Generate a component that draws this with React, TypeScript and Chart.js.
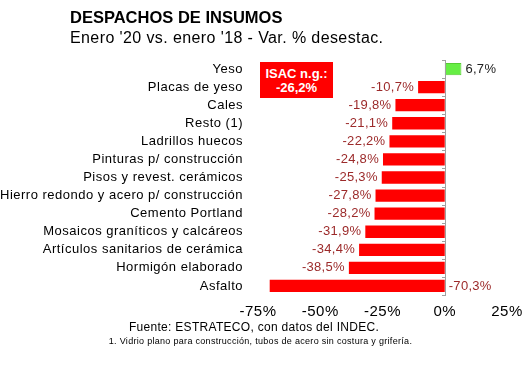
import React, { useEffect, useRef } from "react";
import { Chart, registerables } from "chart.js";

Chart.register(...registerables);

const categories = [
  "Yeso",
  "Placas de yeso",
  "Cales",
  "Resto (1)",
  "Ladrillos huecos",
  "Pinturas p/ construcción",
  "Pisos y revest. cerámicos",
  "Hierro redondo y acero p/ construcción",
  "Cemento Portland",
  "Mosaicos graníticos y calcáreos",
  "Artículos sanitarios de cerámica",
  "Hormigón elaborado",
  "Asfalto",
];
const values = [6.7, -10.7, -19.8, -21.1, -22.2, -24.8, -25.3, -27.8, -28.2, -31.9, -34.4, -38.5, -70.3];
const valueLabels = ["6,7%", "-10,7%", "-19,8%", "-21,1%", "-22,2%", "-24,8%", "-25,3%", "-27,8%", "-28,2%", "-31,9%", "-34,4%", "-38,5%", "-70,3%"];
const xMin = -75;
const xMax = 25;
const xStep = 25;

const title = "DESPACHOS DE INSUMOS";
const subtitle = "Enero '20 vs. enero '18 - Var. % desestac.";
const boxLine1 = "ISAC n.g.:";
const boxLine2 = "-26,2%";
const source = "Fuente: ESTRATECO, con datos del INDEC.";
const footnote = "1. Vidrio plano para construcción, tubos de acero sin costura y grifería.";

const FONT = "'Liberation Sans', Arial, sans-serif";

const spacingPlugin = {
  id: "spacing",
  beforeDraw(chart: any) {
    chart.ctx.letterSpacing = "0.5px";
  },
};

const zeroAxisPlugin = {
  id: "zeroAxis",
  afterDatasetsDraw(chart: any) {
    const { ctx, chartArea, scales } = chart;
    const x0 = scales.x.getPixelForValue(0);
    ctx.save();
    ctx.strokeStyle = "#a0a0a0";
    ctx.lineWidth = 1;
    ctx.beginPath();
    ctx.moveTo(Math.round(x0) + 0.5, chartArea.top);
    ctx.lineTo(Math.round(x0) + 0.5, chartArea.bottom);
    const n = categories.length;
    for (let i = 0; i <= n; i++) {
      const y = chartArea.top + ((chartArea.bottom - chartArea.top) * i) / n;
      ctx.moveTo(Math.round(x0) - 3, Math.round(y) + 0.5);
      ctx.lineTo(Math.round(x0) + 1, Math.round(y) + 0.5);
    }
    ctx.stroke();
    ctx.restore();
  },
};

const valueLabelPlugin = {
  id: "valueLabels",
  afterDatasetsDraw(chart: any) {
    const { ctx, scales } = chart;
    const meta = chart.getDatasetMeta(0);
    const x0 = scales.x.getPixelForValue(0);
    ctx.save();
    ctx.font = `13px ${FONT}`;
    ctx.letterSpacing = "0.3px";
    ctx.textBaseline = "middle";
    meta.data.forEach((bar: any, i: number) => {
      const v = values[i];
      const label = valueLabels[i];
      if (v >= 0) {
        ctx.fillStyle = "#222222";
        ctx.textAlign = "left";
        ctx.fillText(label, bar.x + 4, bar.y);
      } else if (v < -60) {
        ctx.fillStyle = "#9c2a2a";
        ctx.textAlign = "left";
        ctx.fillText(label, x0 + 4, bar.y);
      } else {
        ctx.fillStyle = "#9c2a2a";
        ctx.textAlign = "right";
        ctx.fillText(label, bar.x - 4, bar.y);
      }
    });
    ctx.restore();
  },
};

function BarChart() {
  const ref = useRef<HTMLCanvasElement | null>(null);
  useEffect(() => {
    if (!ref.current) return;
    const chart = new Chart(ref.current, {
      type: "bar",
      data: {
        labels: categories,
        datasets: [
          {
            data: values,
            backgroundColor: values.map((v) => (v >= 0 ? "#66ee44" : "#ff0000")),
            borderColor: values.map((v) => (v >= 0 ? "#55cc33" : "#ff0000")),
            borderWidth: values.map((v) => (v >= 0 ? 1 : 0)),
            barPercentage: 0.68,
            categoryPercentage: 1,
          },
        ],
      },
      plugins: [spacingPlugin, zeroAxisPlugin, valueLabelPlugin],
      options: {
        indexAxis: "y",
        animation: false,
        responsive: false,
        maintainAspectRatio: false,
        layout: { padding: { top: 60, bottom: 57, left: 0, right: 22 } },
        plugins: {
          legend: { display: false },
          tooltip: { enabled: false },
          title: { display: false },
        },
        scales: {
          x: {
            min: xMin,
            max: xMax,
            grid: { display: false, drawTicks: false },
            border: { display: false },
            ticks: {
              stepSize: xStep,
              padding: 8,
              color: "#000000",
              font: { family: FONT, size: 15 },
              callback: (v: any) => `${v}%`,
            },
            afterFit: (scale: any) => {
              scale.height = 30;
            },
          },
          y: {
            grid: { display: false, drawTicks: false },
            border: { display: false },
            ticks: {
              padding: 15,
              color: "#000000",
              font: { family: FONT, size: 13 },
              autoSkip: false,
            },
            afterFit: (scale: any) => {
              scale.width = 258;
            },
          },
        },
      } as any,
    });
    return () => chart.destroy();
  }, []);
  return <canvas ref={ref} width={530} height={382} style={{ position: "absolute", left: 0, top: 0 }} />;
}

export default function App() {
  return (
    <div
      style={{
        position: "absolute",
        left: 0,
        top: 0,
        width: 530,
        height: 382,
        background: "#ffffff",
        fontFamily: FONT,
        overflow: "hidden",
      }}
    >
      <BarChart />
      <div style={{ position: "absolute", left: 70, top: 8, fontSize: 16.5, fontWeight: "bold", color: "#000", whiteSpace: "nowrap", lineHeight: "19px" }}>
        {title}
      </div>
      <div style={{ position: "absolute", left: 70, top: 28, fontSize: 16, letterSpacing: "0.4px", color: "#000", whiteSpace: "nowrap", lineHeight: "19px" }}>
        {subtitle}
      </div>
      <div
        style={{
          position: "absolute",
          left: 260,
          top: 62,
          width: 73,
          height: 36,
          background: "#ff0000",
          color: "#ffffff",
          fontWeight: "bold",
          fontSize: 13,
          textAlign: "center",
          lineHeight: "14px",
          paddingTop: 5,
          boxSizing: "border-box",
        }}
      >
        <div>{boxLine1}</div>
        <div>{boxLine2}</div>
      </div>
      <div style={{ position: "absolute", left: 0, width: 508, top: 320, fontSize: 12, letterSpacing: "0.3px", textAlign: "center", color: "#000", whiteSpace: "nowrap", lineHeight: "15px" }}>
        {source}
      </div>
      <div style={{ position: "absolute", left: 0, width: 521, top: 336, fontSize: 9, letterSpacing: "0.3px", textAlign: "center", color: "#000", whiteSpace: "nowrap", lineHeight: "10px" }}>
        {footnote}
      </div>
    </div>
  );
}
